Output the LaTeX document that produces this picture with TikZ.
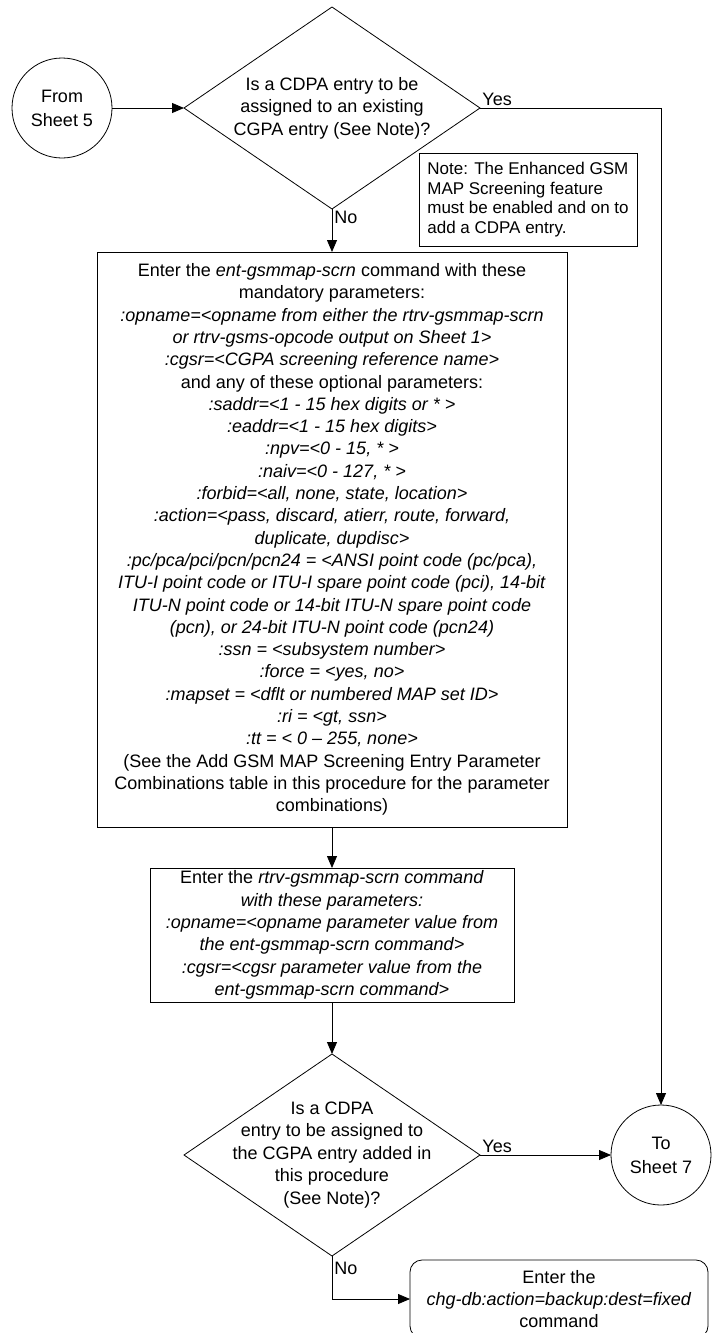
\documentclass[tikz,border=0pt]{standalone}
\usepackage{fontspec}
\setmainfont{Liberation Sans}
\usetikzlibrary{shapes.geometric,arrows.meta}

\begin{document}
\begin{tikzpicture}[x=1pt, y=-1pt, >={Triangle[length=12pt, width=10pt]}, line width=0.8pt,
        sheet/.style={draw, circle, minimum size=100pt, inner sep=0pt, outer sep=0pt, align=center, font=\fontsize{18}{24}\selectfont},
        decision/.style={draw, diamond, minimum width=296pt, minimum height=202pt, inner sep=0pt, outer sep=0pt},
        question/.style={align=center, font=\fontsize{18}{22.5}\selectfont},
        process/.style={draw, align=center, inner sep=0pt, outer sep=0pt, font=\fontsize{18}{22.3}\selectfont},
        notebox/.style={draw, align=left, inner sep=0pt, outer sep=0pt, font=\fontsize{17}{19.5}\selectfont},
        answer/.style={font=\fontsize{18}{22}\selectfont, inner sep=2pt}]
    \useasboundingbox (0,0) rectangle (712,1333);
    \node[sheet] (fromsheet) at (62,108) {From\\Sheet 5};
    \node[decision] (q1) at (332,108) {};
    \node[question] (q1text) at (q1.center) {Is a CDPA entry to be\\assigned to an existing\\CGPA entry (See Note)?};
    \node[notebox, minimum width=218pt, minimum height=93pt] (note) at (528,199.5) {Note: The Enhanced GSM\\MAP Screening feature\\must be enabled and on to\\add a CDPA entry.};
    \node[process, minimum width=470pt, minimum height=575pt] (ent) at (332,539.5) {Enter the \textit{ent-gsmmap-scrn} command with these\\mandatory parameters:\\
        \textit{:opname=<opname from either the rtrv-gsmmap-scrn}\\\textit{or rtrv-gsms-opcode output on Sheet 1>}\\
        \textit{:cgsr=<CGPA screening reference name>}\\and any of these optional parameters:\\
        \textit{:saddr=<1 - 15 hex digits or * >}\\\textit{:eaddr=<1 - 15 hex digits>}\\
        \textit{:npv=<0 - 15, * >}\\\textit{:naiv=<0 - 127, * >}\\
        \textit{:forbid=<all, none, state, location>}\\
        \textit{:action=<pass, discard, atierr, route, forward,}\\\textit{duplicate, dupdisc>}\\
        \textit{:pc/pca/pci/pcn/pcn24 = <ANSI point code (pc/pca),}\\
        \textit{ITU-I point code or ITU-I spare point code (pci), 14-bit}\\
        \textit{ITU-N point code or 14-bit ITU-N spare point code}\\
        \textit{(pcn), or 24-bit ITU-N point code (pcn24)}\\
        \textit{:ssn = <subsystem number>}\\\textit{:force = <yes, no>}\\
        \textit{:mapset = <dflt or numbered MAP set ID>}\\
        \textit{:ri = <gt, ssn>}\\\textit{:tt = < 0 -- 255, none>}\\
        (See the Add GSM MAP Screening Entry Parameter\\Combinations table in this procedure for the parameter\\combinations)};
    \node[process, minimum width=364pt, minimum height=134pt] (rtrv) at (332,935) {Enter the \textit{rtrv-gsmmap-scrn command}\\\textit{with these parameters:}\\
        \textit{:opname=<opname parameter value from}\\\textit{the ent-gsmmap-scrn command>}\\
        \textit{:cgsr=<cgsr parameter value from the}\\\textit{ent-gsmmap-scrn command>}};
    \node[decision] (q2) at (332,1155) {};
    \node[question] (q2text) at (q2.center) {Is a CDPA\\entry to be assigned to\\the CGPA entry added in\\this procedure\\(See Note)?};
    \node[sheet] (tosheet) at (661,1155) {To\\Sheet 7};
    \node[process, rounded corners=12pt, minimum width=298pt, minimum height=78pt] (chgdb) at (559,1299) {Enter the\\\textit{chg-db:action=backup:dest=fixed}\\command};
    \draw[->] (fromsheet.east) -- (q1.west);
    \draw[->] (q1.east) -| node[answer, pos=0, above right]{Yes} (tosheet.north);
    \draw[->] (q1.south) -- node[answer, pos=0.2, right]{No} (ent.north);
    \draw[->] (ent.south) -- (rtrv.north);
    \draw[->] (rtrv.south) -- (q2.north);
    \draw[->] (q2.east) -- node[answer, pos=0, above right]{Yes} (tosheet.west);
    \draw[->] (q2.south) |- node[answer, pos=0.14, right]{No} (chgdb.west);
\end{tikzpicture}
\end{document}
